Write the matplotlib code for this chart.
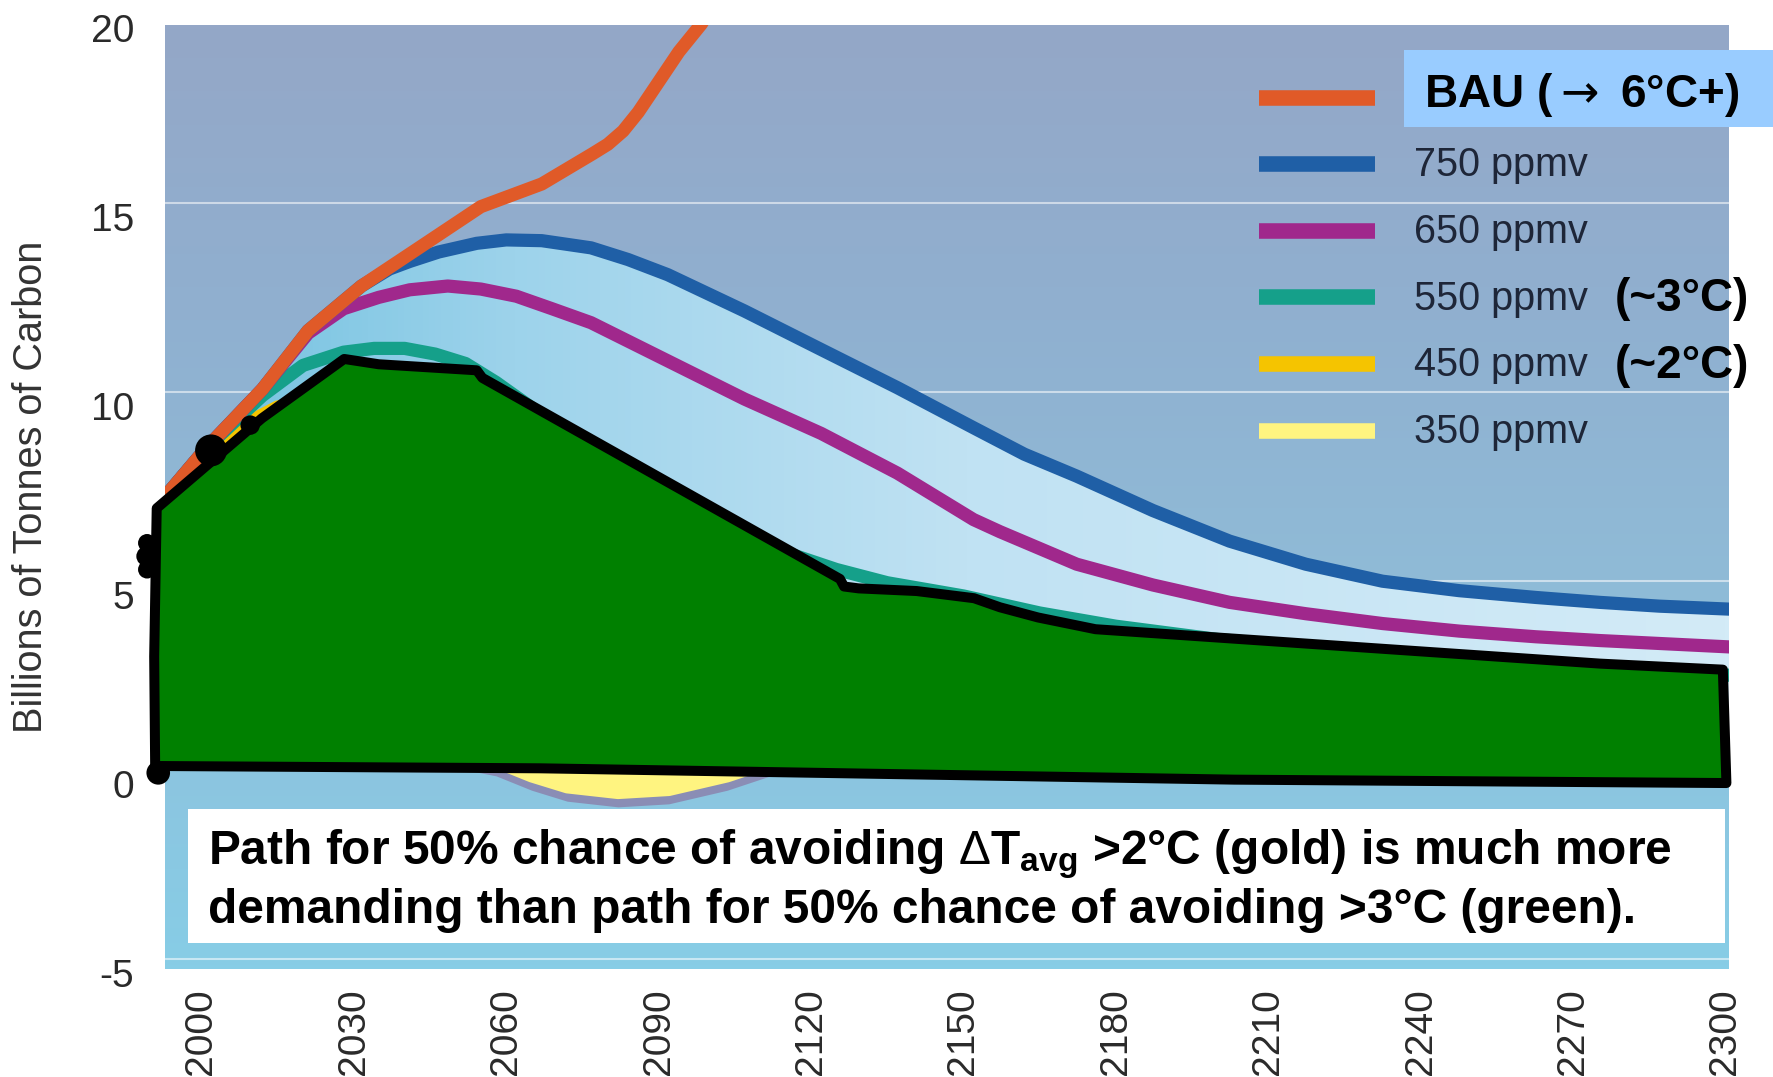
import numpy as np
import matplotlib
matplotlib.use("Agg")
import matplotlib.pyplot as plt
from matplotlib.colors import LinearSegmentedColormap
from matplotlib.patches import Rectangle, Polygon
from matplotlib.lines import Line2D
from matplotlib.transforms import ScaledTranslation

plt.rcParams['font.family'] = ['Liberation Sans', 'DejaVu Sans']
plt.rcParams['mathtext.fontset'] = 'custom'
plt.rcParams['mathtext.rm'] = 'Liberation Sans'
plt.rcParams['mathtext.bf'] = 'Liberation Sans:bold'
plt.rcParams['mathtext.it'] = 'Liberation Sans:italic'
plt.rcParams['axes.unicode_minus'] = False

# --- data (billions of tonnes of carbon per year) ---
bau_years = [1993, 2001, 2012, 2021, 2031.5, 2041.7, 2055, 2067, 2077, 2080, 2083, 2086, 2089.5, 2094, 2098.4, 2101]
bau_vals = [7.25, 8.52, 10.07, 11.62, 12.8, 13.71, 14.9, 15.5, 16.3, 16.55, 16.9, 17.4, 18.1, 19.0, 19.73, 20.3]

p750_years = [1993, 2001, 2012, 2021, 2031.5, 2037, 2041, 2046.7, 2054.2, 2060, 2067, 2076.7, 2084, 2091.8,
              2106.9, 2122, 2137, 2152, 2162, 2172.3, 2187.3, 2202.4, 2217.4, 2232.5, 2247.6, 2262.7, 2275.3, 2287, 2301]
p750_vals = [7.25, 8.52, 10.07, 11.62, 12.8, 13.25, 13.45, 13.7, 13.93, 14.02, 14.0, 13.81, 13.5, 13.1,
             12.14, 11.12, 10.11, 9.05, 8.35, 7.77, 6.86, 6.05, 5.44, 4.99, 4.74, 4.56, 4.43, 4.33, 4.25]

p650_years = [1993, 2001, 2012, 2021, 2028, 2034.9, 2041, 2048.5, 2055, 2062, 2069, 2076.7, 2091.8, 2106.9,
              2122, 2137, 2152, 2157.2, 2172.3, 2187.3, 2202.4, 2217.4, 2232.5, 2247.6, 2262.7, 2275.3, 2301]
p650_vals = [7.25, 8.52, 10.07, 11.55, 12.2, 12.5, 12.7, 12.8, 12.72, 12.53, 12.2, 11.83, 10.82, 9.81,
             8.9, 7.85, 6.62, 6.3, 5.44, 4.89, 4.43, 4.13, 3.87, 3.67, 3.52, 3.42, 3.25]

p550_years = [1993, 2001, 2012, 2020, 2028, 2034, 2040, 2046, 2052, 2058, 2070, 2085, 2100, 2115, 2125, 2135,
              2150, 2165, 2180, 2200, 2230, 2260, 2301]
p550_vals = [7.25, 8.52, 9.9, 10.7, 11.05, 11.15, 11.15, 11.0, 10.75, 10.25, 9.1, 7.95, 6.8, 5.75, 5.3, 4.95,
             4.6, 4.15, 3.8, 3.45, 3.1, 2.85, 2.5]

p450_years = [1993, 2005, 2015, 2025, 2035, 2050, 2070, 2090, 2110, 2150, 2200, 2250, 2301]
p450_vals = [7.25, 8.9, 9.6, 9.7, 9.2, 7.8, 5.6, 3.8, 2.7, 1.9, 1.6, 1.5, 1.4]

p350_years = [1993, 2005, 2015, 2025, 2035, 2045, 2052, 2058, 2065, 2072, 2082, 2092, 2103.5, 2112, 2120,
              2150, 2200, 2250, 2301]
p350_vals = [7.25, 8.5, 8.4, 7.2, 5.0, 2.5, 1.0, 0.22, -0.16, -0.45, -0.6, -0.52, -0.16, 0.22, 0.5,
             0.7, 0.6, 0.5, 0.5]

# hand-drawn green path (outline as traced on the slide)
green_years = [1990.9, 1990.7, 1991.2, 2011.9, 2028.1, 2034.9, 2054.2, 2055.3, 2125.7, 2126.5, 2129.4, 2140.8,
               2152.1, 2157.2, 2164.7, 2176.0, 2275.3, 2299.5, 2300.2, 2203.3, 2066.6, 1992.2]
green_vals = [0.0, 3.0, 6.92, 9.30, 10.87, 10.73, 10.57, 10.37, 5.05, 4.85, 4.80, 4.73,
              4.54, 4.30, 4.03, 3.72, 2.81, 2.65, -0.35, -0.26, 0.04, 0.10]
pen_blob_years = [2001.9, 2009.6, 1991.5, 1989.3, 1989.1, 1989.3]
pen_blob_vals = [8.45, 9.12, -0.08, 6.0, 5.65, 5.3]
pen_blob_sizes = [23, 14, 17, 13, 14, 13]

legend_labels = [r"BAU ($\rightarrow$ 6°C+)", "750 ppmv", "650 ppmv", "550 ppmv", "450 ppmv", "350 ppmv"]
legend_notes = ["", "", "", "(~3\u00b0C)", "(~2\u00b0C)", ""]
colors = ["#e05a28", "#1f5fa6", "#a0288c", "#15a08a", "#f5c400", "#fff480"]

x_ticks = list(range(2000, 2301, 30))
y_ticks = [-5, 0, 5, 10, 15, 20]

W, H = 1774, 1077
X0, X1 = 1992.83, 2300.71
Y0, Y1, YTOP = -5.27, 20.05, 19.70

fig = plt.figure(figsize=(W / 100, H / 100), dpi=100)
ax = fig.add_axes([165 / W, 1 - 969 / H, 1564 / W, 957 / H])

# background gradient
bg_cmap = LinearSegmentedColormap.from_list("bg", [(0, "#87cde6"), (0.21, "#8cc5e0"), (0.41, "#8fbbd7"),
                                                   (0.69, "#90b0d0"), (1, "#94a7c7")])
ax.imshow(np.linspace(0, 1, 256).reshape(-1, 1), cmap=bg_cmap, extent=[X0, X1, Y0, YTOP],
          aspect='auto', origin='lower', zorder=0)
clip_rect = Rectangle((X0, Y0), X1 - X0, YTOP - Y0, transform=ax.transData, facecolor='none', edgecolor='none')
ax.add_patch(clip_rect)

# light band under the 750 ppmv path
light = ax.fill_between(p750_years, p750_vals, 0, facecolor='none', edgecolor='none')
light_cmap = LinearSegmentedColormap.from_list("light", [(0, "#70c0df"), (0.22, "#9dd3eb"),
                                                         (0.51, "#c0e2f3"), (1, "#d3ebf7")])
img = ax.imshow(np.linspace(0, 1, 256).reshape(1, -1), cmap=light_cmap, extent=[1993, 2301, -1, 15],
                aspect='auto', zorder=1)
img.set_clip_path(light.get_paths()[0], transform=ax.transData)

# 350 ppmv dips below zero
v350 = np.array(p350_vals)
ax.fill_between(p350_years, np.minimum(v350 - 0.38, 0), 0, color="#8a8db5", lw=0, zorder=2)
ax.fill_between(p350_years, np.minimum(v350, 0), 0, color=colors[5], lw=0, zorder=2.1)

series = [(bau_years, bau_vals), (p750_years, p750_vals), (p650_years, p650_vals),
          (p550_years, p550_vals), (p450_years, p450_vals), (p350_years, p350_vals)]
for i in range(5, -1, -1):
    yrs, vals = series[i]
    ln, = ax.plot(yrs, vals, color=colors[i], lw=9.5, solid_joinstyle='round', zorder=3 + (5 - i) * 0.1)
    ln.set_clip_path(clip_rect)

# green path with black outline
ax.add_patch(Polygon(np.column_stack([green_years, green_vals]), closed=True, facecolor="#008000",
                     edgecolor="black", lw=7.2, joinstyle='round', zorder=5, clip_on=False))
ax.scatter(pen_blob_years, pen_blob_vals, s=np.array(pen_blob_sizes) ** 2, color="black",
           lw=0, zorder=5.1, clip_on=False)

ax.set_xlim(X0, X1)
ax.set_ylim(Y0, Y1)
ax.set_xticks(x_ticks)
ax.set_yticks(y_ticks)
ax.tick_params(axis='both', length=0, labelsize=28, labelcolor="#2a2a2a")
ax.tick_params(axis='y', pad=22.3)
ax.tick_params(axis='x', pad=13.7, labelrotation=90)
for lbl in ax.get_yticklabels():
    lbl.set_transform(lbl.get_transform() + ScaledTranslation(0, -0.14, fig.dpi_scale_trans))
for s in ax.spines.values():
    s.set_visible(False)
ax.set_axisbelow(True)
ax.grid(axis='y', color='white', alpha=0.55, lw=1.5)
ax.grid(axis='x', visible=False)
ax.set_facecolor('none')

fig.text(31 / W, 1 - 487 / H, "Billions of Tonnes of Carbon", rotation=90, ha='center', va='center',
         fontsize=28.5, color="#333333")

# legend
fig.add_artist(Rectangle((1404 / W, 1 - 127 / H), (W - 1404) / W, 77 / H, transform=fig.transFigure,
                         facecolor="#99ccff", edgecolor='none'))
for i, (lab, note, c) in enumerate(zip(legend_labels, legend_notes, colors)):
    yc = 97.5 + i * 66.6
    fig.add_artist(Line2D([1259 / W, 1375 / W], [1 - yc / H, 1 - yc / H], color=c, lw=11.2,
                          solid_capstyle='butt', transform=fig.transFigure))
    if i == 0:
        fig.text(1424 / W, 1 - 106.7 / H, lab, fontsize=33, fontweight='bold', color='black', va='baseline',
                 math_fontfamily='dejavusans')
    else:
        fig.text(1414 / W, 1 - (yc + 12.4) / H, lab, fontsize=28.5, color="#1e2638", va='baseline')
    if note:
        fig.text(1615 / W, 1 - (yc + 14) / H, note, fontsize=33, fontweight='bold', color='black',
                 va='baseline')

# note box
fig.add_artist(Rectangle((187.7 / W, 1 - 943 / H), (1724.7 - 187.7) / W, 134 / H, transform=fig.transFigure,
                         facecolor='white', edgecolor='none'))
fig.text(208.3 / W, 1 - 864 / H,
         r"Path for 50% chance of avoiding $\Delta$T$_{\mathbf{avg}}$ >2°C (gold) is much more",
         fontsize=34.5, fontweight='bold', va='baseline')
fig.text(208.3 / W, 1 - 922.7 / H,
         "demanding than path for 50% chance of avoiding >3°C (green).",
         fontsize=34.5, fontweight='bold', va='baseline')

fig.savefig("out.png", dpi=100, facecolor='white')
